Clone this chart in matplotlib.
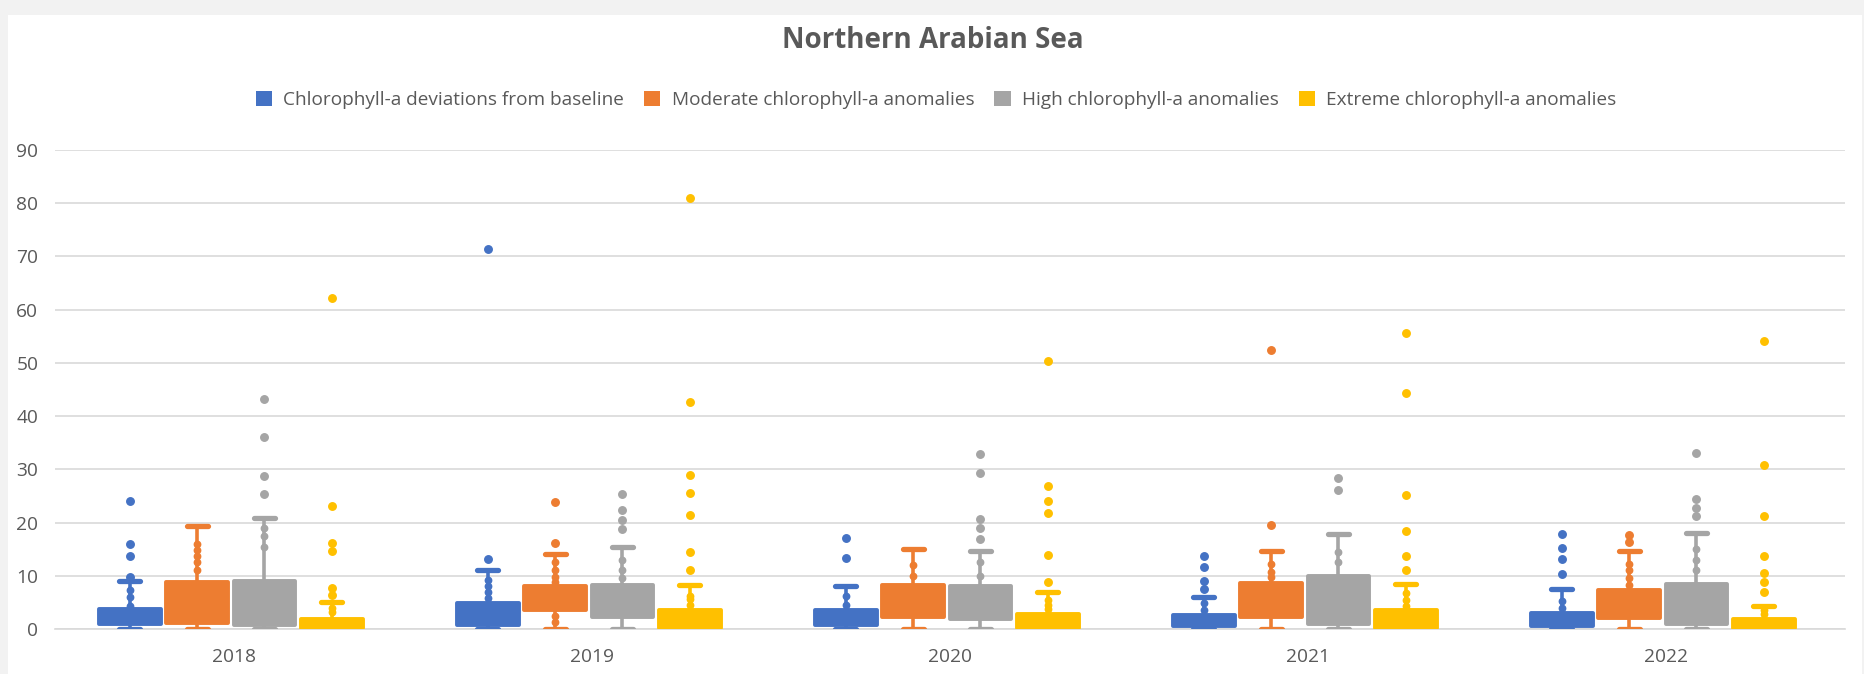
import numpy as np
import matplotlib.pyplot as plt
from matplotlib.patches import Rectangle, Patch

plt.rcParams['font.family'] = ['Open Sans', 'DejaVu Sans']

years = ['2018', '2019', '2020', '2021', '2022']
series = ['Chlorophyll-a deviations from baseline',
          'Moderate chlorophyll-a anomalies',
          'High chlorophyll-a anomalies',
          'Extreme chlorophyll-a anomalies']
colors = ['#4472C4', '#ED7D31', '#A5A5A5', '#FFC000']

# box stats, one row per series, one column per year
whislo = [[0, 0, 0, 0, 0],
          [0, 0, 0, 0, 0],
          [0, 0, 0, 0, 0],
          [0, 0, 0, 0, 0]]
q1 = [[0.9, 0.8, 0.7, 0.6, 0.6],
      [1.2, 3.6, 2.2, 2.2, 2.0],
      [0.7, 2.3, 1.9, 0.9, 1.0],
      [0.2, 0.2, 0.2, 0.2, 0.2]]
med = [[1.8, 2.5, 1.6, 1.2, 1.3],
       [3.7, 5.6, 5.8, 6.4, 4.7],
       [2.6, 5.0, 5.0, 5.1, 3.4],
       [0.6, 1.2, 0.9, 1.3, 0.7]]
q3 = [[3.7, 4.9, 3.6, 2.7, 3.1],
      [8.9, 8.0, 8.3, 8.6, 7.4],
      [9.1, 8.3, 8.0, 10.0, 8.5],
      [1.9, 3.5, 2.8, 3.6, 1.9]]
whishi = [[9.0, 11.0, 8.1, 6.1, 7.5],
          [19.3, 14.1, 15.0, 14.7, 14.7],
          [20.8, 15.5, 14.7, 17.8, 18.1],
          [5.1, 8.2, 7.0, 8.4, 4.4]]
fliers = [
    [[24.0, 15.9, 13.7, 9.8], [71.4, 13.2], [17.1, 13.3], [13.7, 11.7, 9.1, 7.6], [17.8, 15.2, 13.1, 10.3]],
    [[], [23.9, 16.2], [], [52.4, 19.6], [17.6, 16.3]],
    [[43.2, 36.1, 28.8, 25.3], [25.3, 22.3, 20.5, 18.8], [32.8, 29.3, 20.6, 19.0, 16.9], [28.4, 26.1], [33.0, 24.4, 22.8, 21.2]],
    [[62.1, 23.2, 16.1, 14.6, 7.7, 6.4], [80.9, 42.6, 28.9, 25.5, 21.5, 14.5, 11.1],
     [50.4, 26.8, 24.0, 21.8, 13.9, 8.9], [55.6, 44.3, 25.1, 18.5, 13.8, 11.0],
     [54.2, 30.9, 21.3, 13.8, 10.6, 8.9, 6.9]],
]
# points lying inside the whisker range
inner = [
    [[7.3, 6.0, 4.4], [9.3, 8.0, 7.0, 5.8], [6.2, 4.6], [4.8, 3.6], [5.2, 3.9]],
    [[16.0, 14.8, 13.8, 12.5, 11.0], [12.5, 11.0, 9.8, 8.8, 2.5, 1.4], [12.0, 10.0], [12.2, 10.8, 9.8], [12.2, 11.0, 9.5, 8.3]],
    [[19.0, 17.5, 15.5], [13.0, 11.0, 9.6], [12.5, 10.0], [14.5, 12.5], [15.0, 13.0, 11.0]],
    [[4.0, 3.2], [6.2, 5.6, 4.6], [5.5, 4.6, 3.8], [6.8, 5.4, 4.4], [3.6, 2.8]],
]

text_c = '#595959'
grid_c = '#D9D9D9'

fig = plt.figure(figsize=(18.65, 6.74), dpi=100, facecolor='#F2F2F2')
fig.patches.append(Rectangle((8 / 1865, 0), 1854 / 1865, 659 / 674,
                             transform=fig.transFigure, facecolor='white',
                             edgecolor='none', zorder=-5))

ax = fig.add_axes([55 / 1865, 1 - 629 / 674, 1790 / 1865, 479 / 674])
ax.set_facecolor('none')

offsets = [-0.291, -0.103, 0.085, 0.273]
x = np.arange(len(years))

for s, c in enumerate(colors):
    stats = []
    for i in range(len(years)):
        stats.append(dict(whislo=whislo[s][i], q1=q1[s][i], med=med[s][i],
                          q3=q3[s][i], whishi=whishi[s][i], fliers=fliers[s][i]))
    pos = x + offsets[s]
    ax.bxp(stats, positions=pos, widths=0.172, capwidths=0.058,
           patch_artist=True, showfliers=True,
           boxprops=dict(facecolor=c, edgecolor=c, linewidth=2.8, joinstyle='round'),
           whiskerprops=dict(color=c, linewidth=2.6),
           capprops=dict(color=c, linewidth=3.8, solid_capstyle='round'),
           medianprops=dict(color=c, linewidth=1),
           flierprops=dict(marker='o', markersize=5.4, markerfacecolor=c,
                           markeredgecolor=c, linestyle='none'),
           manage_ticks=False, zorder=3)
    for i in range(len(years)):
        ax.plot([pos[i]] * len(inner[s][i]), inner[s][i], 'o', ms=4.6,
                color=c, zorder=4)

ax.set_xlim(-0.5, 4.5)
ax.set_ylim(0, 90)
ax.set_yticks(np.arange(0, 91, 10))
ax.set_xticks(x)
ax.set_xticklabels(years)
ax.yaxis.grid(True, color=grid_c, linewidth=1.2)
ax.set_axisbelow(True)
for side in ['top', 'right', 'left']:
    ax.spines[side].set_visible(False)
ax.spines['bottom'].set_color(grid_c)
ax.spines['bottom'].set_linewidth(1.2)
ax.tick_params(axis='both', length=0, colors=text_c, labelsize=13.8)
ax.tick_params(axis='y', pad=12)
ax.tick_params(axis='x', pad=14)

fig.text(0.5, 1 - 40 / 674, 'Northern Arabian Sea', ha='center', va='center',
         fontsize=20, fontweight='bold', color=text_c)

handles = [Patch(facecolor=c, edgecolor='none') for c in colors]
fig.legend(handles, series, loc='center', bbox_to_anchor=(0.502, 1 - 100 / 674),
           ncol=4, frameon=False, fontsize=13.7, labelcolor=text_c,
           handlelength=0.85, handleheight=0.85, handletextpad=0.6,
           columnspacing=1.05)

fig.savefig('out.png', dpi=100, facecolor=fig.get_facecolor())
